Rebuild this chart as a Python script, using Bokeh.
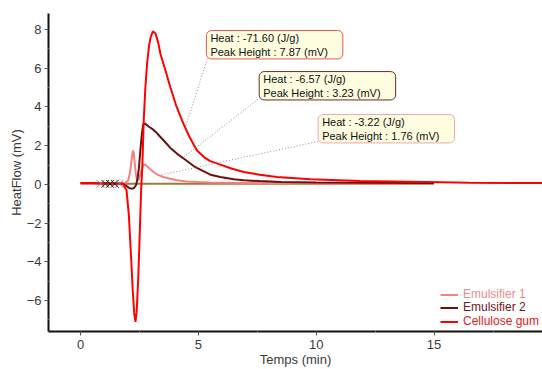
from bokeh.plotting import figure
from bokeh.models import (Range1d, FixedTicker, Label, Legend, LegendItem)
from bokeh.embed import file_html
from bokeh.resources import INLINE

# ---- data ----
cg_t = [0.0, 0.5, 1.0, 1.5, 1.8, 1.95, 2.05, 2.15, 2.22, 2.28, 2.33, 2.38, 2.45, 2.52, 2.57,
        2.62, 2.68, 2.75, 2.82, 2.9, 2.97, 3.07, 3.18, 3.3, 3.39, 3.6, 3.81, 4.05, 4.31, 4.6,
        4.94, 5.25, 5.5, 5.93, 6.4, 6.92, 7.6, 8.33, 9.75, 11.86, 14.7, 16.5, 19.6]
cg_y = [0.06, 0.06, 0.05, 0.05, 0.02, -0.3, -1.6, -3.9, -5.6, -6.7, -7.1, -6.6, -4.8, -2.2, -0.3,
        0.9, 3.3, 5.0, 6.2, 7.1, 7.6, 7.91, 7.8, 7.3, 6.74, 5.9, 5.02, 4.1, 3.3, 2.5,
        1.75, 1.4, 1.2, 1.02, 0.82, 0.64, 0.5, 0.38, 0.26, 0.17, 0.12, 0.08, 0.07]

e2_t = [0.0, 0.5, 1.0, 1.5, 1.8, 1.95, 2.05, 2.15, 2.25, 2.35, 2.42, 2.48, 2.54, 2.6, 2.66,
        2.72, 2.8, 2.9, 3.04, 3.2, 3.35, 3.53, 3.8, 4.1, 4.36, 4.8, 5.1, 5.51, 5.93, 6.5,
        6.92, 7.6, 8.5, 10.0, 12.0, 15.0]
e2_y = [0.06, 0.06, 0.05, 0.05, 0.03, -0.08, -0.18, -0.22, -0.2, -0.05, 0.3, 0.9, 1.8, 2.6, 3.1,
        3.15, 3.08, 2.98, 2.87, 2.7, 2.5, 2.27, 1.9, 1.58, 1.35, 0.95, 0.75, 0.5, 0.38, 0.27,
        0.22, 0.17, 0.13, 0.1, 0.08, 0.07]

e1_t = [0.0, 0.5, 1.0, 1.5, 1.9, 2.02, 2.1, 2.16, 2.2, 2.23, 2.26, 2.3, 2.35, 2.4, 2.46,
        2.52, 2.6, 2.66, 2.71, 2.8, 2.95, 3.1, 3.3, 3.55, 3.81, 4.1, 4.52, 5.0, 5.5, 6.5,
        8.0, 10.0, 12.0, 14.0]
e1_y = [0.06, 0.06, 0.05, 0.05, 0.08, 0.2, 0.6, 1.2, 1.6, 1.75, 1.6, 1.1, 0.5, 0.22, 0.25,
        0.45, 0.8, 0.97, 1.03, 0.97, 0.8, 0.64, 0.48, 0.37, 0.29, 0.22, 0.15, 0.12, 0.1, 0.08,
        0.07, 0.06, 0.05, 0.05]

base_t = [1.85, 15.0]
base_y = [0.03, 0.03]

mark_t = [0.85, 1.05, 1.25, 1.45, 1.65]
mark_y = [0.03, 0.03, 0.03, 0.03, 0.03]
mark_c = ["#888888", "#222222", "#000000", "#222222", "#888888"]

ann_text = ["Heat :  -71.60 (J/g)\nPeak Height :  7.87 (mV)",
            "Heat :  -6.57 (J/g)\nPeak Height :  3.23 (mV)",
            "Heat :  -3.22 (J/g)\nPeak Height :  1.76 (mV)"]
ann_x = [5.34, 7.58, 10.08]
ann_y = [7.95, 5.83, 3.61]
ann_border = ["#e05a5a", "#6a2a2a", "#f0a8a8"]

ldr_x0 = [5.38, 7.63, 10.08]
ldr_y0 = [6.5, 4.49, 2.22]
ldr_x1 = [4.45, 4.36, 3.3]
ldr_y1 = [2.94, 1.39, 0.46]

series_names = ["Emulsifier 1", "Emulsifier 2", "Cellulose gum"]
series_colors = ["#f58282", "#6e0e0e", "#ff0000"]
legend_text_colors = ["#f08a8a", "#6a1818", "#e02020"]

x_ticks = [0, 5, 10, 15]
x_minor = [2.5, 7.5, 12.5, 17.5]
y_ticks = [-6, -4, -2, 0, 2, 4, 6, 8]
y_minor = [-7, -5, -3, -1, 1, 3, 5, 7]

FONT = "Liberation Sans"

p = figure(width=542, height=369, output_backend="svg", toolbar_location=None,
           x_range=Range1d(-1.36, 19.6), y_range=Range1d(-7.6, 8.83),
           min_border_top=13, min_border_right=0, min_border_left=48)
p.xgrid.visible = False
p.ygrid.visible = False
p.outline_line_color = None
p.background_fill_color = "white"

for ax in (p.xaxis[0], p.yaxis[0]):
    ax.axis_line_width = 2
    ax.axis_line_color = "#111111"
    ax.major_tick_line_color = "#555555"
    ax.major_tick_in = 0
    ax.major_tick_out = 4
    ax.minor_tick_line_color = "#aaaaaa"
    ax.minor_tick_in = 0
    ax.minor_tick_out = 2
    ax.major_label_text_font = FONT
    ax.major_label_text_font_size = "13px"
    ax.major_label_text_color = "#3a3a3a"
    ax.axis_label_text_font = FONT
    ax.axis_label_text_font_size = "13px"
    ax.axis_label_text_font_style = "normal"
    ax.axis_label_text_color = "#3a3a3a"

p.xaxis.ticker = FixedTicker(ticks=x_ticks, minor_ticks=x_minor)
p.yaxis.ticker = FixedTicker(ticks=y_ticks, minor_ticks=y_minor)
p.xaxis.axis_label = "Temps (min)"
p.yaxis.axis_label = "HeatFlow (mV)"
p.xaxis.major_label_standoff = 4
p.xaxis.axis_label_standoff = 0
p.yaxis.major_label_standoff = 3
p.yaxis.axis_label_standoff = 0

# baseline
p.line(base_t, base_y, line_color="#9c7c3c", line_width=2)

r1 = p.line(e1_t, e1_y, line_color=series_colors[0], line_width=2)
r2 = p.line(e2_t, e2_y, line_color=series_colors[1], line_width=2)
r3 = p.line(cg_t, cg_y, line_color=series_colors[2], line_width=2)

p.scatter(x=mark_t, y=mark_y, marker="x", size=11, line_color=mark_c, line_width=1)

# leader lines
p.segment(x0=ldr_x0, y0=ldr_y0, x1=ldr_x1, y1=ldr_y1,
          line_color="#a08888", line_width=1, line_dash="1 2")

for txt, ax_, ay_, bc in zip(ann_text, ann_x, ann_y, ann_border):
    p.add_layout(Label(x=ax_, y=ay_, text=txt, anchor="top_left",
                       text_font=FONT, text_font_size="11px", text_color="#111111",
                       text_line_height=1.2,
                       padding=dict(left=4, right=12, top=1, bottom=1),
                       border_radius=5,
                       background_fill_color="#fffde0", background_fill_alpha=1.0,
                       border_line_color=bc, border_line_width=1))

renderers = [r1, r2, r3]
leg_y = [30, 17, 3]
for name, rend, tc, ly in zip(series_names, renderers, legend_text_colors, leg_y):
    leg = Legend(items=[LegendItem(label=name, renderers=[rend])],
                 location=(392, ly), padding=0, margin=0, spacing=0,
                 glyph_width=18, glyph_height=13, label_height=13, label_standoff=5,
                 label_text_font=FONT, label_text_font_size="12px",
                 label_text_color=tc, border_line_color=None,
                 background_fill_alpha=0)
    p.add_layout(leg)

open("out.html", "w").write(file_html(p, INLINE))
